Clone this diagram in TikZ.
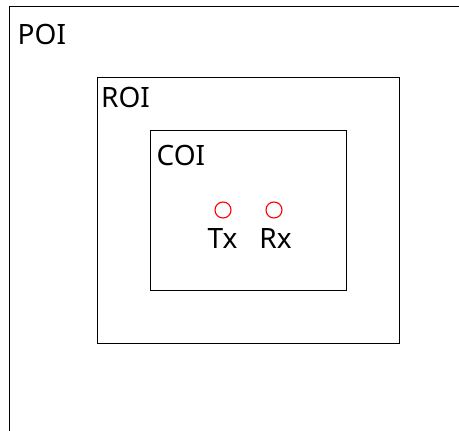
\documentclass[tikz,border=0pt]{standalone}
\usepackage{fontspec}
\setmainfont{Noto Sans}
\begin{document}
\begin{tikzpicture}[x=1pt,y=1pt,
  region/.style={draw=black, line width=1.2pt, inner sep=0pt, anchor=north west},
  lbl/.style={inner sep=0pt, font=\fontsize{28}{32}\selectfont},
  ant/.style={draw=red, line width=1.1pt, circle, minimum size=16pt, inner sep=0pt}]
\useasboundingbox (0,0) rectangle (459,431);
\node[region, minimum width=470pt, minimum height=440pt] (poi) at (9,425) {};
\node[region, minimum width=302pt, minimum height=266pt] (roi) at (97,354) {};
\node[region, minimum width=196pt, minimum height=160pt] (coi) at (150,301) {};
\node[lbl, anchor=base west] (poil) at (17.5,386.5) {POI};
\node[lbl, anchor=base west] (roil) at (101,323) {ROI};
\node[lbl, anchor=base west] (coil) at (156.5,265) {COI};
\node[ant] (tx) at (223,221) {};
\node[ant] (rx) at (274,221) {};
\node[lbl, anchor=base] (txl) at (222.5,182) {Tx};
\node[lbl, anchor=base] (rxl) at (275.5,182) {Rx};
\end{tikzpicture}
\end{document}
